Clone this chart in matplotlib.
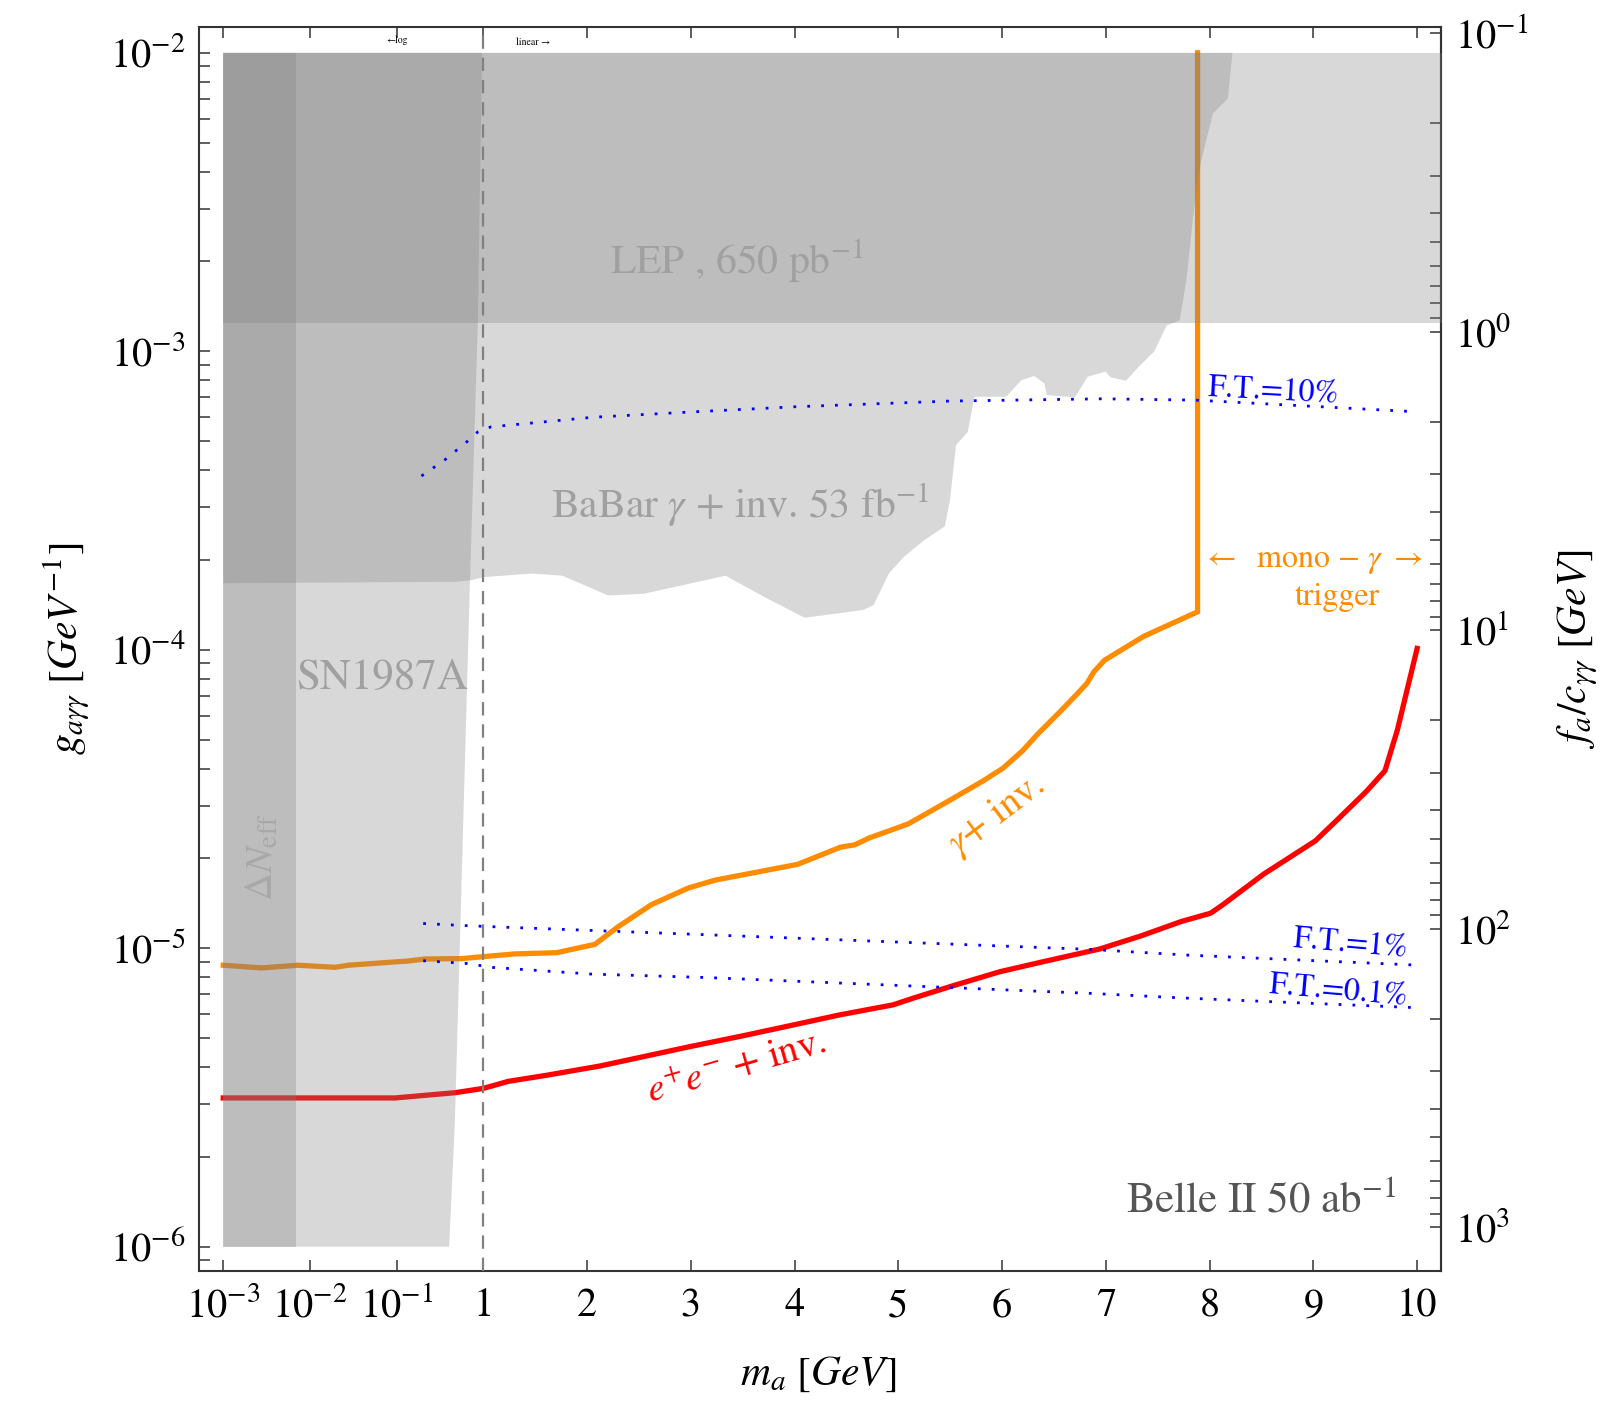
import numpy as np
import matplotlib
matplotlib.use("Agg")
import matplotlib.pyplot as plt
from matplotlib.ticker import NullLocator, FixedLocator, LogLocator

plt.rcParams['font.family'] = 'STIXGeneral'
plt.rcParams['mathtext.fontset'] = 'stix'

# ---- data (m_a in GeV, g in GeV^-1) ----
# BaBar gamma + inv. excluded region: lower/right boundary
babar_m = [1e-3, 0.50, 0.73, 1.0, 1.467, 1.762, 2.205, 2.549, 3.335, 3.728, 4.097,
           4.465, 4.663, 4.761, 4.909, 5.056, 5.252, 5.449, 5.498, 5.557, 5.670,
           5.734, 6.039, 6.186, 6.309, 6.408, 6.432, 6.703, 6.826, 6.997, 7.046,
           7.194, 7.317, 7.464, 7.587, 7.712, 7.776, 7.873, 7.921, 8.033, 8.177, 8.220]
babar_g = [1.67e-4, 1.69e-4, 1.71e-4, 1.75e-4, 1.80e-4, 1.77e-4, 1.52e-4, 1.54e-4,
           1.77e-4, 1.49e-4, 1.28e-4, 1.33e-4, 1.36e-4, 1.41e-4, 1.80e-4, 2.05e-4,
           2.33e-4, 2.59e-4, 3.17e-4, 4.85e-4, 5.37e-4, 7.04e-4, 7.04e-4, 8.0e-4,
           8.26e-4, 7.80e-4, 7.13e-4, 7.01e-4, 8.22e-4, 8.54e-4, 8.18e-4, 7.97e-4,
           8.87e-4, 9.96e-4, 1.22e-3, 1.27e-3, 1.73e-3, 3.56e-3, 4.37e-3, 6.27e-3,
           7.03e-3, 1e-2]

# SN1987A region (right edge)
sn_m = [1e-3, 0.405, 0.472, 0.564, 0.703, 0.867, 0.97, 1e-3]
sn_g = [1e-6, 1e-6, 2.65e-6, 1.69e-5, 1.67e-4, 1.24e-3, 1e-2, 1e-2]

# Delta N_eff and LEP bands
neff_m = [1e-3, 7e-3]
neff_g = [1e-6, 1e-2]
lep_m = [1e-3, 10.5]
lep_g = [1.24e-3, 1e-2]

# Belle II gamma + inv.
gam_m = [1e-3, 2.77e-3, 7.3e-3, 0.0195, 0.0277, 0.136, 0.212, 0.563, 1.0, 1.305,
         1.707, 2.076, 2.30, 2.622, 2.975, 3.232, 4.031, 4.443, 4.581, 4.719, 5.097,
         5.510, 5.820, 6.009, 6.199, 6.335, 6.543, 6.714, 6.817, 6.886, 6.989, 7.368,
         7.884, 7.884]
gam_g = [8.77e-6, 8.59e-6, 8.77e-6, 8.63e-6, 8.77e-6, 9.06e-6, 9.2e-6, 9.23e-6,
         9.37e-6, 9.57e-6, 9.66e-6, 1.03e-5, 1.18e-5, 1.40e-5, 1.59e-5, 1.69e-5,
         1.91e-5, 2.18e-5, 2.22e-5, 2.34e-5, 2.61e-5, 3.15e-5, 3.64e-5, 4.01e-5,
         4.59e-5, 5.18e-5, 6.12e-5, 7.05e-5, 7.71e-5, 8.44e-5, 9.23e-5, 1.11e-4,
         1.34e-4, 1.0e-2]

# Belle II e+e- + inv.
ee_m = [1e-3, 0.096, 0.471, 1.0, 1.241, 1.626, 2.124, 2.541, 2.991, 3.505, 3.987,
        4.436, 4.950, 5.143, 5.496, 5.978, 6.395, 6.941, 7.34, 7.73, 8.01, 8.13,
        8.52, 9.02, 9.21, 9.51, 9.69, 9.81, 10.0]
ee_g = [3.15e-6, 3.15e-6, 3.28e-6, 3.39e-6, 3.58e-6, 3.76e-6, 4.03e-6, 4.33e-6,
        4.68e-6, 5.09e-6, 5.53e-6, 5.98e-6, 6.46e-6, 6.80e-6, 7.43e-6, 8.34e-6,
        9.01e-6, 9.94e-6, 1.10e-5, 1.23e-5, 1.31e-5, 1.40e-5, 1.77e-5, 2.29e-5,
        2.65e-5, 3.35e-5, 3.93e-5, 5.39e-5, 1.01e-4]

# fine tuning contours
ft10_m = [0.194, 0.362, 0.667, 0.869, 1.074, 2.057, 3.04, 4.02, 5.50, 6.97, 7.86, 9.99]
ft10_g = [3.82e-4, 4.33e-4, 5.01e-4, 5.37e-4, 5.58e-4, 6.01e-4, 6.27e-4, 6.52e-4,
          6.81e-4, 6.93e-4, 6.86e-4, 6.27e-4]
ft1_m = [0.203, 0.643, 1.096, 3.136, 6.845, 7.792, 9.992]
ft1_g = [1.21e-5, 1.19e-5, 1.18e-5, 1.11e-5, 9.91e-6, 9.48e-6, 8.78e-6]
ft01_m = [0.203, 0.643, 1.096, 2.044, 3.136, 6.845, 7.792, 9.992]
ft01_g = [9.08e-6, 8.89e-6, 8.62e-6, 8.19e-6, 7.98e-6, 7.06e-6, 6.80e-6, 6.32e-6]

xtick_vals = [1e-3, 1e-2, 1e-1, 1, 2, 3, 4, 5, 6, 7, 8, 9, 10]
xtick_labels = ['$10^{-3}$', '$10^{-2}$', '$10^{-1}$'] + [str(i) for i in range(1, 11)]
ftick_vals = [0.1, 1, 10, 100, 1000]
ftick_labels = ['$10^{-1}$', '$10^{0}$', '$10^{1}$', '$10^{2}$', '$10^{3}$']

C_AG = 1.0 / 137.036 / (2 * np.pi)  # f_a/c = alpha/(2 pi g)

# log below 1 GeV, linear above
K = 0.835


def fwd(m):
    m = np.asarray(m, dtype=float)
    with np.errstate(divide='ignore', invalid='ignore'):
        return np.where(m >= 1, m, 1 + K * np.log10(np.clip(m, 1e-300, None)))


def inv(u):
    u = np.asarray(u, dtype=float)
    with np.errstate(over='ignore'):
        return np.where(u >= 1, u, 10 ** ((np.minimum(u, 1) - 1) / K))


def g2f(g):
    g = np.asarray(g, dtype=float)
    with np.errstate(divide='ignore'):
        return C_AG / g


fig = plt.figure(figsize=(16.12, 14.01), dpi=100)
ax = fig.add_axes([199 / 1612, 1 - 1271 / 1401, 1242 / 1612, 1244 / 1401])
ax.set_xscale('function', functions=(fwd, inv))
ax.set_yscale('log')
ax.set_xlim(5.25e-4, 10.23)
ax.set_ylim(8.29e-7, 1.22e-2)

shade = dict(color='0.5', alpha=0.3, lw=0, zorder=3)
ax.fill_between(neff_m, neff_g[0], neff_g[1], **shade)
ax.fill(sn_m, sn_g, **shade)
ax.fill(babar_m + [1e-3], babar_g + [1e-2], **shade)
ax.fill_between(lep_m, lep_g[0], lep_g[1], **shade)

ax.plot(gam_m, gam_g, color='#ff8c00', lw=3.8, zorder=2, solid_joinstyle='miter')
ax.plot(ee_m, ee_g, color='#ff0000', lw=3.8, zorder=2)

dots = dict(color='blue', lw=2.0, linestyle=(0, (1, 4)), zorder=4)
ax.plot(ft10_m, ft10_g, **dots)
ax.plot(ft1_m, ft1_g, **dots)
ax.plot(ft01_m, ft01_g, **dots)

ax.axvline(1, color='#808080', lw=1.6, linestyle=(0, (6, 4)), zorder=4)

# texts
ax.text(0.101, 1.10e-2, '\u2190log', fontsize=7, ha='center', va='center')
ax.text(1.48, 1.085e-2, 'linear \u2192', fontsize=7, ha='center', va='center')
ax.text(2.22, 1.81e-3, r'LEP , 650 pb$^{-1}$', fontsize=30, color='#a0a0a0', zorder=5)
ax.text(1.652, 2.76e-4, r'BaBar $\gamma$ + inv. 53 fb$^{-1}$', fontsize=30,
        color='#a0a0a0', zorder=5)
ax.text(6.9e-3, 7.38e-5, 'SN1987A', fontsize=31, color='#a0a0a0', zorder=5)
ax.text(2.84e-3, 2.02e-5, r'$\Delta N_{\rm eff}$', fontsize=28, color='#a8a8a8',
        rotation=90, ha='center', va='center', zorder=5)
ax.text(9.80, 1.30e-6, r'Belle II 50 ab$^{-1}$', fontsize=31, color='#555555',
        ha='right', zorder=5)
ax.text(5.95, 2.79e-5, r'$\gamma$+ inv.', fontsize=28, color='#ff8c00', rotation=37,
        ha='center', va='center', zorder=5)
ax.text(3.445, 3.97e-6, r'$e^{+}e^{-}$ + inv.', fontsize=28, color='#ff0000',
        rotation=16, ha='center', va='center', zorder=5)
ax.text(8.62, 7.3e-4, 'F.T.=10%', fontsize=23, color='blue', rotation=-3,
        ha='center', va='center', zorder=5)
ax.text(9.36, 1.03e-5, 'F.T.=1%', fontsize=23, color='blue', rotation=-5,
        ha='center', va='center', zorder=5)
ax.text(9.245, 7.19e-6, 'F.T.=0.1%', fontsize=23, color='blue', rotation=-5,
        ha='center', va='center', zorder=5)
ax.text(8.99, 1.98e-4, r'$\leftarrow$  mono $-$ $\gamma$ $\rightarrow$', fontsize=23,
        color='#ff8c00', ha='center', va='center', zorder=5)
ax.text(9.23, 1.50e-4, 'trigger', fontsize=23, color='#ff8c00', ha='center',
        va='center', zorder=5)

# axes styling
ax.set_xticks(xtick_vals, labels=xtick_labels)
ax.xaxis.set_minor_locator(NullLocator())
ax.yaxis.set_major_locator(LogLocator(base=10, numticks=20))
ax.yaxis.set_minor_locator(LogLocator(base=10, subs=np.arange(2, 10), numticks=20))
ax.tick_params(which='both', direction='in', top=True, right=False, length=8,
               width=1.1, labelsize=29, color='#333333')
ax.tick_params(axis='y', which='major', pad=10)
ax.tick_params(axis='x', which='major', pad=12)
for s in ax.spines.values():
    s.set_linewidth(1.5)
    s.set_color('#333333')

secax = ax.secondary_yaxis('right', functions=(g2f, g2f))
secax.yaxis.set_major_locator(FixedLocator(ftick_vals))
secax.set_yticklabels(ftick_labels)
secax.yaxis.set_minor_locator(LogLocator(base=10, subs=np.arange(2, 10), numticks=20))
secax.tick_params(which='both', direction='in', length=8, width=1.1, labelsize=29,
                  pad=10, color='#333333')
secax.spines['right'].set_linewidth(1.5)
secax.spines['right'].set_color('#333333')

ax.set_xlabel(r'$m_a\ [GeV]$', fontsize=30, va='center', ha='center')
ax.xaxis.set_label_coords(0.499, -0.083)
ax.set_ylabel(r'$g_{a\gamma\gamma}\ [GeV^{-1}]$', fontsize=30, va='center',
              ha='center')
ax.yaxis.set_label_coords(-0.106, 0.5)
secax.set_ylabel(r'$f_a/c_{\gamma\gamma}\ [GeV]$', fontsize=30, va='center',
                 ha='center', rotation=90)
secax.yaxis.set_label_coords(1.110, 0.5, transform=ax.transAxes)

fig.savefig('out.png', dpi=100)
